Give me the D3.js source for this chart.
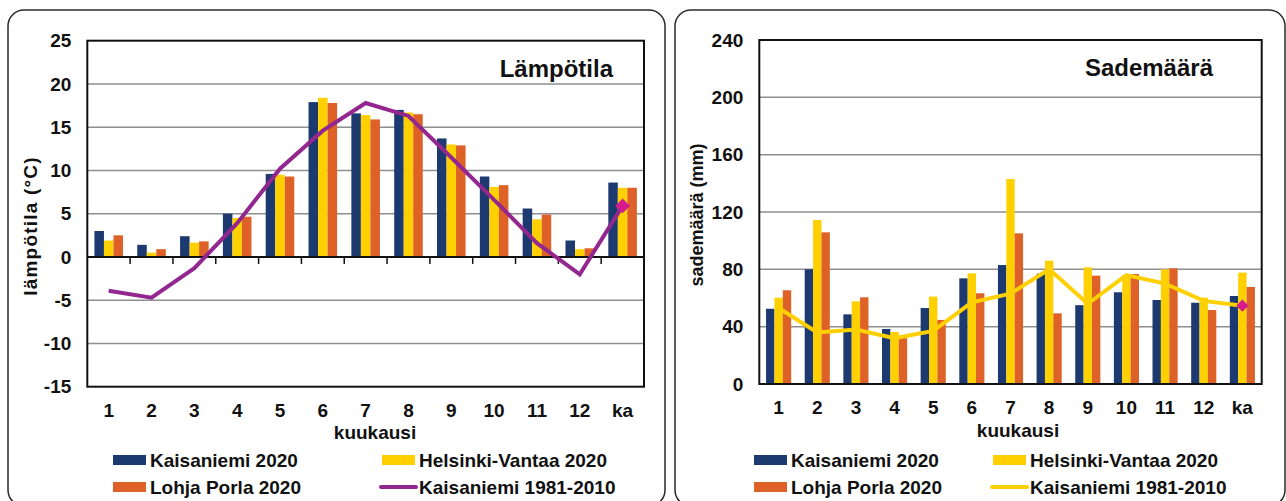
<!DOCTYPE html>
<html>
<head>
<meta charset="utf-8">
<script src="https://cdn.jsdelivr.net/npm/d3@7/dist/d3.min.js"></script>
<style>
  html, body { margin: 0; padding: 0; background: #fff; }
  svg { display: block; }
  text { font-family: "Liberation Sans", Arial, sans-serif; font-weight: bold; fill: #111; }
</style>
</head>
<body>
<svg id="chart" width="1286" height="501"></svg>
<script>
// Categories: months 1-12 and the annual mean ("ka")
const months = ["1", "2", "3", "4", "5", "6", "7", "8", "9", "10", "11", "12", "ka"];

// Mean temperature (°C)
const tempKaisaniemi2020 = [3.0, 1.4, 2.4, 5.0, 9.6, 17.9, 16.6, 17.0, 13.7, 9.3, 5.6, 1.9, 8.6];
const tempVantaa2020     = [1.9, 0.5, 1.65, 4.5, 9.5, 18.4, 16.4, 16.7, 13.0, 8.1, 4.35, 0.9, 8.0];
const tempLohja2020      = [2.5, 0.9, 1.8, 4.65, 9.3, 17.8, 15.9, 16.5, 12.9, 8.3, 4.9, 1.0, 8.0];
const tempKaisaniemiNormal = [-3.9, -4.7, -1.3, 3.9, 10.2, 14.6, 17.8, 16.3, 11.5, 6.6, 1.6, -2.0, 5.9];
const tempTicks = [-15, -10, -5, 0, 5, 10, 15, 20, 25];

// Precipitation (mm)
const rainKaisaniemi2020 = [52.5, 80, 48.6, 38.4, 53, 73.7, 83, 77, 55, 64, 58.6, 56.7, 61.4];
const rainVantaa2020     = [60.2, 114.4, 57.7, 36.3, 61, 77.2, 143, 86, 81.4, 76, 80, 60.2, 77.7];
const rainLohja2020      = [65.4, 105.8, 60.5, 32, 44.7, 63.3, 105.1, 49.3, 75.6, 76.7, 80.7, 51.6, 67.7];
const rainKaisaniemiNormal = [53, 36, 38, 32, 37, 57, 63, 80, 56, 76, 70, 58, 54.6];
const rainTicks = [0, 40, 80, 120, 160, 200, 240];

const seriesNames = ["Kaisaniemi 2020", "Helsinki-Vantaa 2020", "Lohja Porla 2020"];
const normalName = "Kaisaniemi 1981-2010";

const svg = d3.select("#chart");

// Rounded frames around each panel
svg.append("rect").attr("x", 8).attr("y", 10).attr("width", 657).attr("height", 496)
  .attr("rx", 16).attr("fill", "none").attr("stroke", "#2a2a2a").attr("stroke-width", 1.5);
svg.append("rect").attr("x", 675).attr("y", 10).attr("width", 610).attr("height", 496)
  .attr("rx", 16).attr("fill", "none").attr("stroke", "#2a2a2a").attr("stroke-width", 1.5);

function drawPanel(cfg) {
  const g = svg.append("g");
  const x = d3.scaleBand().domain(months).range([cfg.left, cfg.right]).padding(0);
  const y = d3.scaleLinear().domain(cfg.domain).range([cfg.bottom, cfg.top]);
  const groupW = x.bandwidth() * cfg.groupFrac;
  const xs = d3.scaleBand().domain(seriesNames).range([0, groupW]).padding(0);
  const colors = ["#1c3a70", "#ffd000", "#de6128"];

  // horizontal gridlines
  g.append("g").selectAll("line")
    .data(cfg.ticks.filter(t => t !== cfg.domain[0] && t !== cfg.domain[1] && t !== cfg.base))
    .join("line")
    .attr("x1", cfg.left).attr("x2", cfg.right)
    .attr("y1", d => y(d)).attr("y2", d => y(d))
    .attr("stroke", "#8e8e8e").attr("stroke-width", 1.5);

  // bars
  const series = [cfg.a, cfg.b, cfg.c];
  series.forEach((vals, si) => {
    g.append("g").selectAll("rect").data(vals).join("rect")
      .attr("x", (d, i) => x(months[i]) + (x.bandwidth() - groupW) / 2 + xs(seriesNames[si]))
      .attr("width", xs.bandwidth())
      .attr("y", d => Math.min(y(d), y(cfg.base)))
      .attr("height", d => Math.abs(y(d) - y(cfg.base)))
      .attr("fill", colors[si]);
  });

  // category axis along the base value
  g.append("line").attr("x1", cfg.left).attr("x2", cfg.right)
    .attr("y1", y(cfg.base)).attr("y2", y(cfg.base))
    .attr("stroke", "#111").attr("stroke-width", 2);
  if (cfg.baseTicks) {
    g.append("g").selectAll("line").data(months.slice(1)).join("line")
      .attr("x1", d => x(d)).attr("x2", d => x(d))
      .attr("y1", y(cfg.base)).attr("y2", y(cfg.base) + 7)
      .attr("stroke", "#111").attr("stroke-width", 1.5);
  }

  // plot border
  g.append("rect").attr("x", cfg.left).attr("y", cfg.top)
    .attr("width", cfg.right - cfg.left).attr("height", cfg.bottom - cfg.top)
    .attr("fill", "none").attr("stroke", "#111").attr("stroke-width", 2);

  // normal line and annual marker
  const line = d3.line().x((d, i) => x(months[i]) + x.bandwidth() / 2).y(d => y(d));
  g.append("path").datum(cfg.normal).attr("d", line)
    .attr("fill", "none").attr("stroke", cfg.lineColor).attr("stroke-width", 4)
    .attr("stroke-linejoin", "miter");
  const last = cfg.normal.length - 1;
  g.append("path")
    .attr("d", d3.symbol().type(d3.symbolSquare).size(cfg.markerSize)())
    .attr("transform", `translate(${x(months[last]) + x.bandwidth() / 2},${y(cfg.normal[last])}) rotate(45)`)
    .attr("fill", "#d41a8c");

  // y tick labels
  g.append("g").selectAll("text").data(cfg.ticks).join("text")
    .attr("x", cfg.left - 16).attr("y", d => y(d)).attr("dy", "0.35em")
    .attr("text-anchor", "end").attr("font-size", 19).text(d => d);

  // x tick labels
  g.append("g").selectAll("text").data(months).join("text")
    .attr("x", d => x(d) + x.bandwidth() / 2).attr("y", cfg.xLabelY).attr("dy", "0.35em")
    .attr("text-anchor", "middle").attr("font-size", 19).text(d => d);

  // axis titles
  g.append("text").attr("x", cfg.xTitleX).attr("y", cfg.xTitleY).attr("dy", "0.35em")
    .attr("text-anchor", "middle").attr("font-size", 19).text("kuukausi");
  g.append("text")
    .attr("transform", `translate(${cfg.yTitleX},${cfg.yTitleY}) rotate(-90)`)
    .attr("dy", "0.35em").attr("text-anchor", "middle")
    .attr("font-size", cfg.yTitleSize).attr("letter-spacing", cfg.yTitleSpacing)
    .text(cfg.yTitle);

  // panel title
  g.append("text").attr("x", cfg.titleX).attr("y", cfg.titleY)
    .attr("text-anchor", "end").attr("font-size", 24).text(cfg.title);

  // legend
  const lg = g.append("g");
  const items = [
    { name: seriesNames[0], color: colors[0], x: cfg.leg.x1, y: 460, type: "bar" },
    { name: seriesNames[1], color: colors[1], x: cfg.leg.x2, y: 460, type: "bar" },
    { name: seriesNames[2], color: colors[2], x: cfg.leg.x1, y: 487, type: "bar" },
    { name: normalName, color: cfg.lineColor, x: cfg.leg.x2, y: 487, type: "line" }
  ];
  items.forEach(it => {
    if (it.type === "bar") {
      lg.append("rect").attr("x", it.x).attr("y", it.y - 5).attr("width", 33).attr("height", 10)
        .attr("fill", it.color);
    } else {
      lg.append("line").attr("x1", it.x - 1).attr("x2", it.x + 34)
        .attr("y1", it.y).attr("y2", it.y)
        .attr("stroke", it.color).attr("stroke-width", 4).attr("stroke-linecap", "round");
    }
    lg.append("text").attr("x", it.x + 37).attr("y", it.y).attr("dy", "0.36em")
      .attr("font-size", 19).text(it.name);
  });
}

drawPanel({
  left: 87.3, right: 644, top: 40.7, bottom: 386.7,
  domain: [-15, 25], ticks: tempTicks, base: 0, baseTicks: true,
  groupFrac: 0.667,
  a: tempKaisaniemi2020, b: tempVantaa2020, c: tempLohja2020, normal: tempKaisaniemiNormal,
  lineColor: "#93278f", markerSize: 110,
  xLabelY: 410, xTitleX: 375, xTitleY: 432,
  yTitle: "lämpötila (°C)", yTitleX: 30, yTitleY: 226, yTitleSize: 19, yTitleSpacing: 1.2,
  title: "Lämpötila", titleX: 613, titleY: 77,
  leg: { x1: 113, x2: 382 }
});

drawPanel({
  left: 759.3, right: 1261.7, top: 40, bottom: 384,
  domain: [0, 240], ticks: rainTicks, base: 0, baseTicks: false,
  groupFrac: 0.65,
  a: rainKaisaniemi2020, b: rainVantaa2020, c: rainLohja2020, normal: rainKaisaniemiNormal,
  lineColor: "#ffd000", markerSize: 75,
  xLabelY: 407, xTitleX: 1018, xTitleY: 430,
  yTitle: "sademäärä (mm)", yTitleX: 697, yTitleY: 215, yTitleSize: 18, yTitleSpacing: 0,
  title: "Sademäärä", titleX: 1213, titleY: 76,
  leg: { x1: 754, x2: 993 }
});
</script>
</body>
</html>
